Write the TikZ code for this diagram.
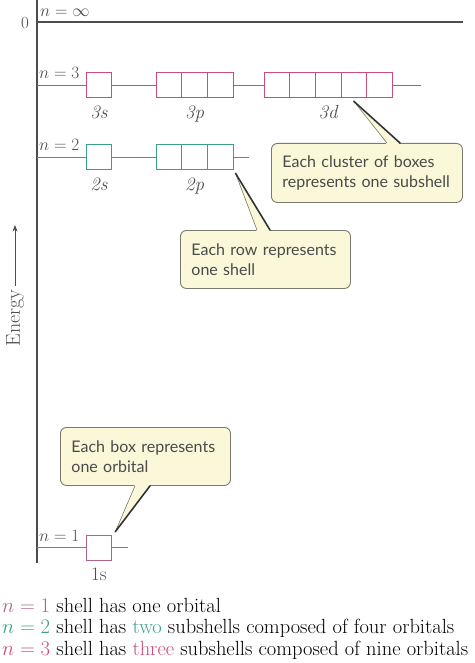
\documentclass[tikz,border=0pt]{standalone}
\usepackage{fontspec}
\newfontfamily\callfont{Lato}
\usetikzlibrary{arrows.meta,positioning,calc}
\definecolor{ShPink}{HTML}{CC4D78}
\definecolor{ShGreen}{HTML}{3AA088}
\definecolor{ShOne}{HTML}{B2628A}
\definecolor{AxGray}{HTML}{4D4D4D}
\definecolor{CalFill}{HTML}{FBF8DA}
\definecolor{CalBord}{HTML}{7A7A6E}
\definecolor{CalText}{HTML}{4A4A4A}
\tikzset{
  every picture/.append style={font=\fontsize{17}{20}\selectfont, >=Stealth},
  orb/.style={rectangle, draw=#1, fill=white, line width=0.9pt, minimum size=25.7pt, inner sep=0pt},
  lvl/.style={line width=0.9pt, draw=#1},
  axl/.style={line width=1.1pt, draw=AxGray},
  sub/.style={font=\fontsize{19}{22}\selectfont\itshape, text=AxGray, inner sep=1pt},
  nlab/.style={anchor=base west, inner sep=0pt, text=AxGray},
  cal/.style={rectangle, rounded corners=6pt, draw=CalBord, fill=CalFill, line width=0.9pt,
              align=left, inner xsep=11pt, inner ysep=0pt, text=CalText,
              font=\callfont\fontsize{16}{20}\selectfont},
  ptr/.style={line width=0.6pt, draw=CalBord},
  ptrS/.style={line width=1.6pt, draw=black!80, line cap=round},
  txt/.style={anchor=base west, inner sep=0pt, font=\fontsize{20.5}{22}\selectfont},
}

\begin{document}
\begin{tikzpicture}[x=1pt,y=-1pt]
\useasboundingbox (0,0) rectangle (474,663);

% ---------------- axes --------------------------------------------------------
\coordinate (ax0) at (37,0);
\coordinate (ax1) at (37,563);
\coordinate (z0) at (37,22);
\coordinate (z1) at (463,22);
\draw[axl] (ax0) -- (ax1);
\draw[axl] (z0) -- (z1);
\node[text=AxGray] (zero) at (25,23) {0};
\node[nlab] (ninf) at (40,17) {$n = \infty$};
\node[rotate=90, text=AxGray, font=\fontsize{20}{22}\selectfont] (en) at (15,318) {Energy};
\coordinate (enTip) at (15,225);
\draw[->, line width=0.8pt, draw=AxGray] (en) -- (enTip);

% ---------------- n = 3 --------------------------------------------------------
\coordinate (a3) at (37,85);
\coordinate (e3) at (421,85);
\draw[lvl=ShPink] (a3) -- (e3);
\node[nlab] (n3) at (39,79) {$n = 3$};
\node[orb=ShPink] (s3) at (99,85) {};
\foreach \i in {1,2,3} \node[orb=ShPink] (p3\i) at ({143.1+25.7*\i},85) {};
\foreach \i in {1,...,5} \node[orb=ShPink] (d3\i) at ({251.4+25.6*\i},85) {};
\node[sub, below=6pt of s3] (ls3) {3s};
\node[sub, below=6pt of p32] (lp3) {3p};
\node[sub, below=6pt of d33] (ld3) {3d};

% ---------------- n = 2 --------------------------------------------------------
\coordinate (a2) at (37,157);
\coordinate (e2) at (249,157);
\draw[lvl=ShGreen] (a2) -- (e2);
\node[nlab] (n2) at (39,151) {$n = 2$};
\node[orb=ShGreen] (s2) at (99,157) {};
\foreach \i in {1,2,3} \node[orb=ShGreen] (p2\i) at ({143.1+25.7*\i},157) {};
\node[sub, below=6pt of s2] (ls2) {2s};
\node[sub, below=6pt of p22] (lp2) {2p};

% ---------------- n = 1 --------------------------------------------------------
\coordinate (a1) at (37,547);
\coordinate (e1) at (128,547);
\draw[lvl=ShOne] (a1) -- (e1);
\node[nlab] (n1) at (39,541) {$n = 1$};
\node[orb=ShOne] (s1) at (99,548) {};
\node[sub, below=5pt of s1, font=\fontsize{19}{22}\selectfont\upshape] (ls1) {1s};

% ---------------- callouts -----------------------------------------------------
\node[cal, anchor=north west, text width=169pt, minimum height=59pt] (cs) at (271,143)
  {Each cluster of boxes\\represents one subshell};
\node[cal, anchor=north west, text width=148pt, minimum height=58pt] (csh) at (180,230)
  {Each row represents\\one shell};
\node[cal, anchor=north west, text width=148pt, minimum height=58pt] (co) at (60,427)
  {Each box represents\\one orbital};

\coordinate (tcs) at ($(d34.south)+(0,3)$);
\coordinate (tcsh) at ($(p23.south east)+(2,3)$);
\coordinate (tco) at ($(s1.north east)+(3,-3)$);
\foreach \c/\a/\l/\r/\d in {cs/north/116/129/1.5, csh/north/77/90/1.5, co/south/75/90/-1.5}{
  \coordinate (bl) at ($(\c.\a\space west)+(\l,0)$);
  \coordinate (br) at ($(\c.\a\space west)+(\r,0)$);
  \fill[CalFill] (t\c) -- ($(bl)+(0,\d)$) -- ($(br)+(0,\d)$) -- cycle;
  \draw[ptr] (bl) -- (t\c);
  \draw[ptrS] (t\c) -- (br);
}

% ---------------- summary text -------------------------------------------------
\node[txt] (t1) at (2,612) {\textcolor{ShOne}{$n = 1$} shell has one orbital};
\node[txt] (t2) at (2,633) {\textcolor{ShGreen}{$n = 2$} shell has \textcolor{ShGreen}{two} subshells composed of four orbitals};
\node[txt] (t3) at (2,655) {\textcolor{ShPink}{$n = 3$} shell has \textcolor{ShPink}{three} subshells composed of nine orbitals};

\end{tikzpicture}
\end{document}
